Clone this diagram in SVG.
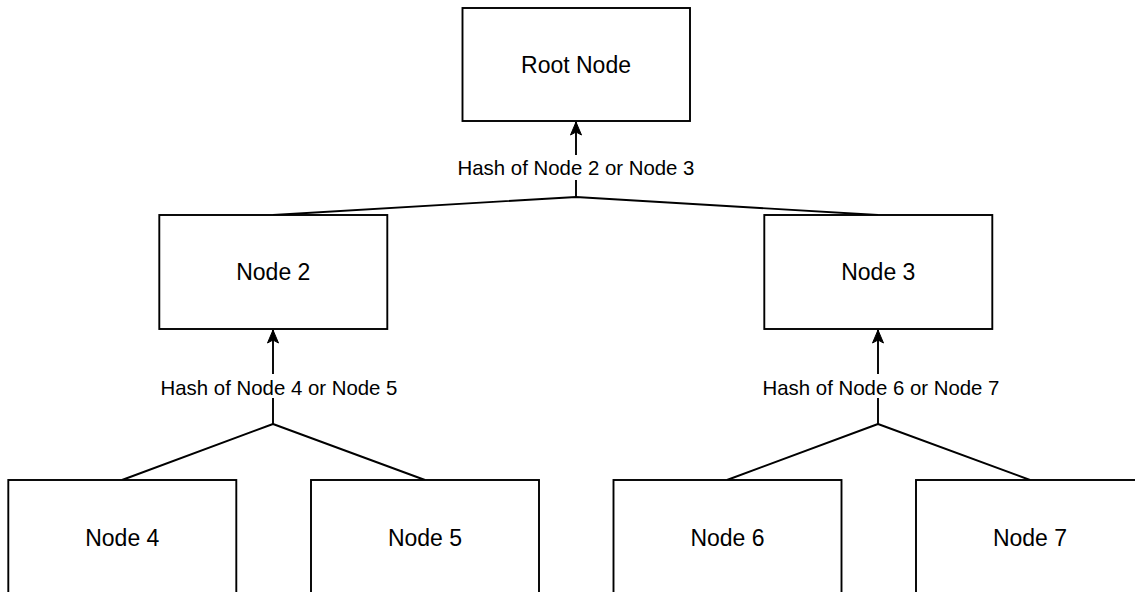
<svg xmlns="http://www.w3.org/2000/svg" width="1135" height="592" viewBox="0 0 1135 592">
<style>
.box{fill:#fff;stroke:#000;stroke-width:1.9}
.nt{font-family:"Liberation Sans",Arial,sans-serif;font-size:23px;fill:#000;text-anchor:middle}
.lt{font-family:"Liberation Sans",Arial,sans-serif;font-size:20.4px;fill:#000;text-anchor:middle}
.ln{fill:none;stroke:#000;stroke-width:1.9}
.bg{fill:#fff}
</style>
<defs>
<marker id="arr" markerUnits="userSpaceOnUse" markerWidth="18" markerHeight="18" viewBox="-16 -9 18 18" refX="0" refY="0" orient="auto">
<path d="M0,0 L-13,-5.5 L-10,0 L-13,5.5 Z" fill="#000" stroke="#000" stroke-width="1"/>
</marker>
</defs>
<rect width="1135" height="592" fill="#fff"/>
<g id="connectors">
<path class="ln" d="M576,197 L273,215 M576,197 L878,215"/>
<path class="ln" d="M576,197 L576,122" marker-end="url(#arr)"/>
<path class="ln" d="M273,424 L122,480 M273,424 L425,480"/>
<path class="ln" d="M273,424 L273,330" marker-end="url(#arr)"/>
<path class="ln" d="M878,424 L727,480 M878,424 L1030,480"/>
<path class="ln" d="M878,424 L878,330" marker-end="url(#arr)"/>
<rect class="bg" x="456" y="155" width="240" height="25"/>
<text class="lt" x="576" y="175">Hash of Node 2 or Node 3</text>
<rect class="bg" x="157" y="374" width="244" height="24"/>
<text class="lt" x="279" y="395">Hash of Node 4 or Node 5</text>
<rect class="bg" x="759" y="374" width="244" height="24"/>
<text class="lt" x="881" y="395">Hash of Node 6 or Node 7</text>
</g>
<g id="root"><rect class="box" x="462.5" y="8" width="227.5" height="113"/><text class="nt" x="576" y="73">Root Node</text></g>
<g id="node2"><rect class="box" x="159.3" y="215" width="228" height="114"/><text class="nt" x="273.3" y="280">Node 2</text></g>
<g id="node3"><rect class="box" x="764.3" y="215" width="228" height="114"/><text class="nt" x="878.3" y="280">Node 3</text></g>
<g id="node4"><rect class="box" x="8.3" y="480" width="228" height="114"/><text class="nt" x="122.3" y="546">Node 4</text></g>
<g id="node5"><rect class="box" x="311" y="480" width="228" height="114"/><text class="nt" x="425" y="546">Node 5</text></g>
<g id="node6"><rect class="box" x="613.5" y="480" width="228" height="114"/><text class="nt" x="727.5" y="546">Node 6</text></g>
<g id="node7"><rect class="box" x="916" y="480" width="228" height="114"/><text class="nt" x="1030" y="546">Node 7</text></g>
</svg>
